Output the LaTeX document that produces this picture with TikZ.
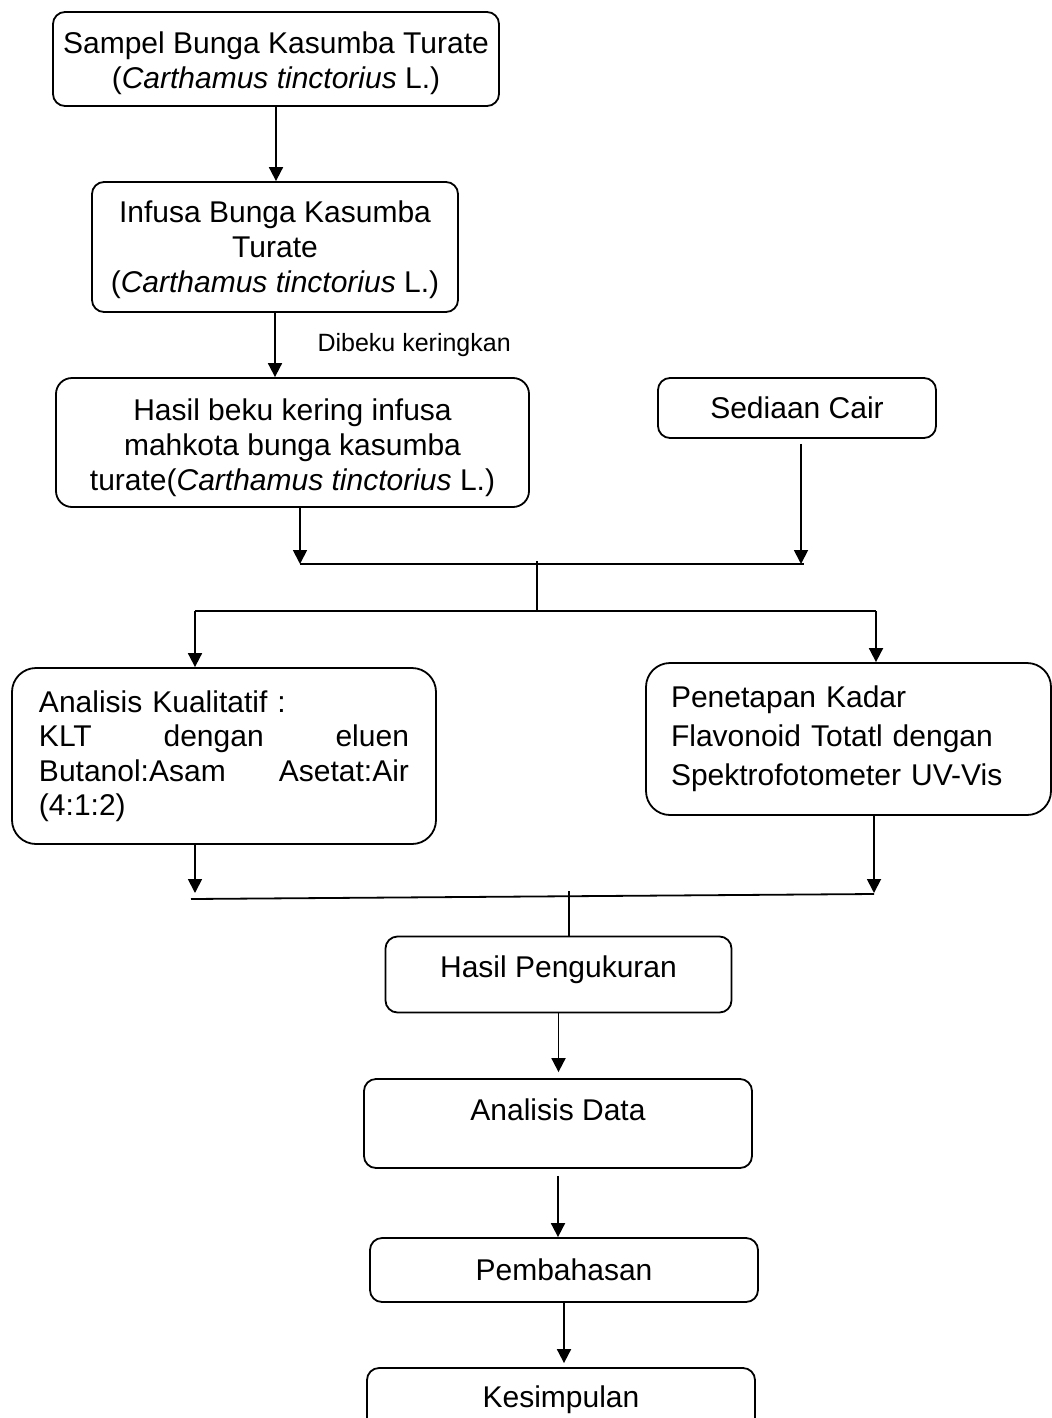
\documentclass[tikz,border=0pt]{standalone}
\usepackage{fontspec}
\setmainfont{Liberation Sans}
\usetikzlibrary{arrows.meta,calc}
\begin{document}
\begin{tikzpicture}[x=0.5pt,y=-0.5pt,
  box/.style={draw, line width=0.9pt, rounded corners=6pt, align=center,
    font=\fontsize{15}{17.5}\selectfont, inner sep=0pt},
  arr/.style={draw, line width=0.9pt, -{Triangle[length=7pt,width=7pt]}},
  ln/.style={draw, line width=0.9pt},
  lbl/.style={font=\fontsize{12.5}{14}\selectfont, anchor=west}]
\useasboundingbox (0,0) rectangle (1052,1418);

% boxes
\node[box, minimum width=223pt, minimum height=47pt] (b1) at (276,59)
  {\rule{0pt}{15pt}Sampel Bunga Kasumba Turate\\(\textit{Carthamus tinctorius} L.)};
\node[box, minimum width=183pt, minimum height=65pt] (b2) at (275,247)
  {\rule{0pt}{14pt}Infusa Bunga Kasumba\\Turate\\(\textit{Carthamus tinctorius} L.)};
\node[box, rounded corners=8pt, minimum width=236.5pt, minimum height=64.5pt] (b3) at (292.5,442.5)
  {\rule{0pt}{16pt}Hasil beku kering infusa\\mahkota bunga kasumba\\turate(\textit{Carthamus tinctorius} L.)};
\node[box, minimum width=139pt, minimum height=30pt] (sed) at (797,408) {Sediaan Cair};
\node[box, rounded corners=12pt, text width=185pt, align=left, minimum width=212pt,
  minimum height=88pt, font=\fontsize{15}{17.25}\selectfont] (kual) at (224,756)
  {Analisis Kualitatif :\\
   \makebox[185pt]{KLT\hfill dengan\hfill eluen}\\
   \makebox[185pt]{Butanol:Asam\hfill Asetat:Air}\\
   (4:1:2)};
\node[box, rounded corners=12pt, text width=177.5pt, align=left, minimum width=202.5pt,
  minimum height=76pt, font=\fontsize{15}{19.5}\selectfont] (pen) at (848.5,739)
  {Penetapan Kadar\\Flavonoid Totatl dengan\\Spektrofotometer UV-Vis};
\node[box, minimum width=173pt, minimum height=38pt, text height=11pt, text depth=8pt] (hp) at (558.5,974.5)
  {Hasil Pengukuran};
\node[box, minimum width=194pt, minimum height=44.5pt, text height=11pt, text depth=14pt] (ad) at (558,1123.5)
  {Analisis Data};
\node[box, minimum width=194pt, minimum height=32pt] (pb) at (564,1270) {Pembahasan};
\node[box, minimum width=194pt, minimum height=32pt] (ks) at (561,1400) {Kesimpulan};

% junction coordinates
\coordinate (j1L) at (300,564);
\coordinate (j1R) at (801,564);
\coordinate (j1M) at (537,561);
\coordinate (s1M) at (537,611);
\coordinate (s1L) at (195,611);
\coordinate (s1R) at (876,611);
\coordinate (j2L) at (191,899);
\coordinate (j2R) at (874,894);
\coordinate (j2M) at (569,891);
\coordinate (t2L) at (195,893);
\coordinate (t2R) at (874,893);

% connectors
\draw[arr] (b1.south) -- (b1.south |- b2.north);
\draw[arr] (b2.south) -- (b2.south |- b3.north)
  node[lbl, midway, xshift=17.5pt] (dib) {Dibeku keringkan};
\draw[arr] (b3.south -| j1L) -- (j1L);
\draw[arr] ($(sed.south -| j1R)+(0,5)$) -- (j1R);
\draw[ln] (j1L) -- ($(j1R)+(3,0)$);
\draw[ln] (j1M) -- (s1M);
\draw[ln] (s1L) -- (s1R);
\draw[arr] (s1L) -- (s1L |- kual.north);
\draw[arr] (s1R) -- (s1R |- pen.north);
\draw[arr] (kual.south -| t2L) -- (t2L);
\draw[arr] (pen.south -| t2R) -- (t2R);
\draw[ln] (j2L) -- (j2R);
\draw[ln] (j2M) -- (j2M |- hp.north);
\draw[arr, shorten >=3pt] (hp.south) -- (hp.south |- ad.north);
\draw[arr] ($(ad.south)+(0,7)$) -- (ad.south |- pb.north);
\draw[arr, shorten >=2pt] (pb.south) -- (pb.south |- ks.north);
\end{tikzpicture}
\end{document}
